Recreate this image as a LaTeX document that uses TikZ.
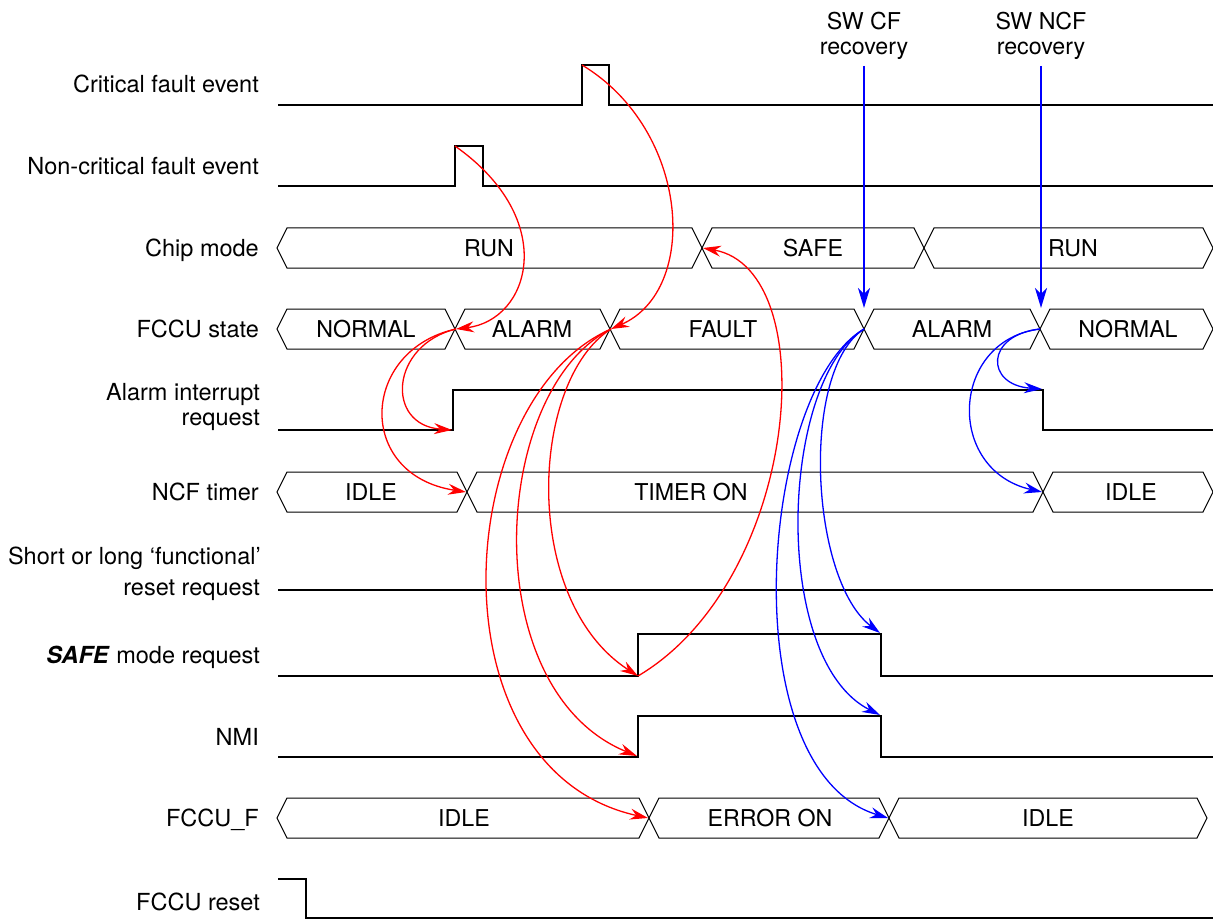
\documentclass[tikz,border=0pt]{standalone}
\usepackage{fontspec}
\setmainfont{TeX Gyre Heros}
\usetikzlibrary{arrows.meta}
\newcommand{\hexseg}[3]{% left x, right x, centre y
  \draw[bus] (#1,#3) -- (#1+10,#3-20) -- (#2-10,#3-20) -- (#2,#3) -- (#2-10,#3+20) -- (#1+10,#3+20) -- cycle;}
\begin{document}
\begin{tikzpicture}[x=1pt,y=-1pt,
  sig/.style={line width=2pt},
  bus/.style={line width=1pt},
  lbl/.style={font=\fontsize{23.5}{27}\selectfont, anchor=base east, inner sep=0pt},
  val/.style={font=\fontsize{23.2}{27}\selectfont, inner sep=0pt},
  top/.style={font=\fontsize{23.2}{27}\selectfont, anchor=base, inner sep=0pt},
  redarr/.style={red, line width=1.3pt, -{Stealth[length=18pt,width=11pt,inset=6pt]}},
  bluearr/.style={blue, line width=1.3pt, -{Stealth[length=18pt,width=11pt,inset=6pt]}},
  swarr/.style={blue, line width=2.5pt, -{Stealth[length=20pt,width=12pt,inset=6pt]}}]
\useasboundingbox (0,0) rectangle (1213,920);

% ---------- labels ----------
\node[lbl] (l1) at (259,93) {Critical fault event};
\node[lbl] (l2) at (259,175) {Non-critical fault event};
\node[lbl] (l3) at (259,256) {Chip mode};
\node[lbl] (l4) at (259,337) {FCCU state};
\node[lbl] (l5a) at (260,400) {Alarm interrupt};
\node[lbl] (l5b) at (260,425) {request};
\node[lbl] (l6) at (259,500) {NCF timer};
\node[lbl] (l7a) at (261,564) {Short or long ‘functional’};
\node[lbl] (l7b) at (260,595) {reset request};
\node[lbl] (l8) at (260,663) {\textbf{\textit{SAFE}} mode request};
\node[lbl] (l9) at (259,745) {NMI};
\node[lbl] (l10) at (259,826) {FCCU\_F};
\node[lbl] (l11) at (260,910) {FCCU reset};

\node[top] (t1) at (864,30) {SW CF};
\node[top] (t2) at (864,55) {recovery};
\node[top] (t3) at (1041,30) {SW NCF};
\node[top] (t4) at (1041,55) {recovery};

% ---------- signals ----------
\draw[sig] (278,105) -- (582,105) -- (582,65) -- (609,65) -- (609,105) -- (1213,105);
\draw[sig] (278,186) -- (455,186) -- (455,146) -- (483,146) -- (483,186) -- (1213,186);
\draw[sig] (278,430) -- (453,430) -- (453,390) -- (1043,390) -- (1043,430) -- (1213,430);
\draw[sig] (278,590) -- (1213,590);
\draw[sig] (278,676) -- (638,676) -- (638,634) -- (881,634) -- (881,676) -- (1213,676);
\draw[sig] (278,757) -- (638,757) -- (638,716) -- (881,716) -- (881,757) -- (1213,757);
\draw[sig] (278,879) -- (306,879) -- (306,918) -- (1213,918);

% ---------- buses ----------
\hexseg{277}{702}{248}
\hexseg{702}{924}{248}
\hexseg{924}{1213}{248}
\node[val] (v1) at (489,248) {RUN};
\node[val] (v2) at (813,248) {SAFE};
\node[val] (v3) at (1073,248) {RUN};

\hexseg{277}{455}{329}
\hexseg{455}{610}{329}
\hexseg{610}{864}{329}
\hexseg{864}{1040}{329}
\hexseg{1040}{1213}{329}
\node[val] (s1) at (366,329) {NORMAL};
\node[val] (s2) at (532,329) {ALARM};
\node[val] (s3) at (723,329) {FAULT};
\node[val] (s4) at (952,329) {ALARM};
\node[val] (s5) at (1128,329) {NORMAL};

\hexseg{277}{467}{492}
\hexseg{467}{1043}{492}
\hexseg{1043}{1213}{492}
\node[val] (n1) at (371,492) {IDLE};
\node[val] (n2) at (691,492) {TIMER ON};
\node[val] (n3) at (1131,492) {IDLE};

\hexseg{277}{649}{818}
\hexseg{649}{889}{818}
\hexseg{889}{1207}{818}
\node[val] (f1) at (464,818) {IDLE};
\node[val] (f2) at (770,818) {ERROR ON};
\node[val] (f3) at (1048,818) {IDLE};

% ---------- key points ----------
\coordinate (ncf) at (455,146);
\coordinate (cf) at (582,65);
\coordinate (stA) at (456,329);
\coordinate (stF) at (611,329);
\coordinate (stAl) at (864,329);
\coordinate (stN) at (1040,329);
\coordinate (airR) at (452,430);
\coordinate (airF) at (1042,389);
\coordinate (ncfX) at (466,492);
\coordinate (ncfX2) at (1042,492);
\coordinate (safeR) at (638,676);
\coordinate (safeF) at (880,633);
\coordinate (nmiR) at (637,756);
\coordinate (nmiF) at (880,715);
\coordinate (fX1) at (648,818);
\coordinate (fX2) at (888,818);
\coordinate (chipX) at (703,248);
\coordinate (swcfA) at (864,66);
\coordinate (swcfB) at (864,308);
\coordinate (swncfA) at (1041,66);
\coordinate (swncfB) at (1041,308);

% ---------- red causal arrows ----------
\draw[redarr] (ncf) .. controls (560,220) and (530,320) .. (stA);
\draw[redarr] (cf) .. controls (690,130) and (700,290) .. (stF);
\draw[redarr] (stA) .. controls (390,345) and (385,425) .. (airR);
\draw[redarr] (stA) .. controls (360,350) and (355,475) .. (ncfX);
\draw[redarr] (stF) .. controls (530,380) and (520,600) .. (safeR);
\draw[redarr] (stF) .. controls (490,390) and (475,690) .. (nmiR);
\draw[redarr] (stF) .. controls (450,400) and (430,770) .. (fX1);
\draw[redarr] (safeR) .. controls (800,580) and (825,270) .. (chipX);

% ---------- blue recovery arrows ----------
\draw[swarr] (swcfA) -- (swcfB);
\draw[swarr] (swncfA) -- (swncfB);
\draw[bluearr] (stAl) .. controls (800,370) and (810,580) .. (safeF);
\draw[bluearr] (stAl) .. controls (780,380) and (770,660) .. (nmiF);
\draw[bluearr] (stAl) .. controls (760,390) and (730,770) .. (fX2);
\draw[bluearr] (stN) .. controls (985,335) and (985,385) .. (airF);
\draw[bluearr] (stN) .. controls (950,340) and (945,470) .. (ncfX2);
\end{tikzpicture}
\end{document}
